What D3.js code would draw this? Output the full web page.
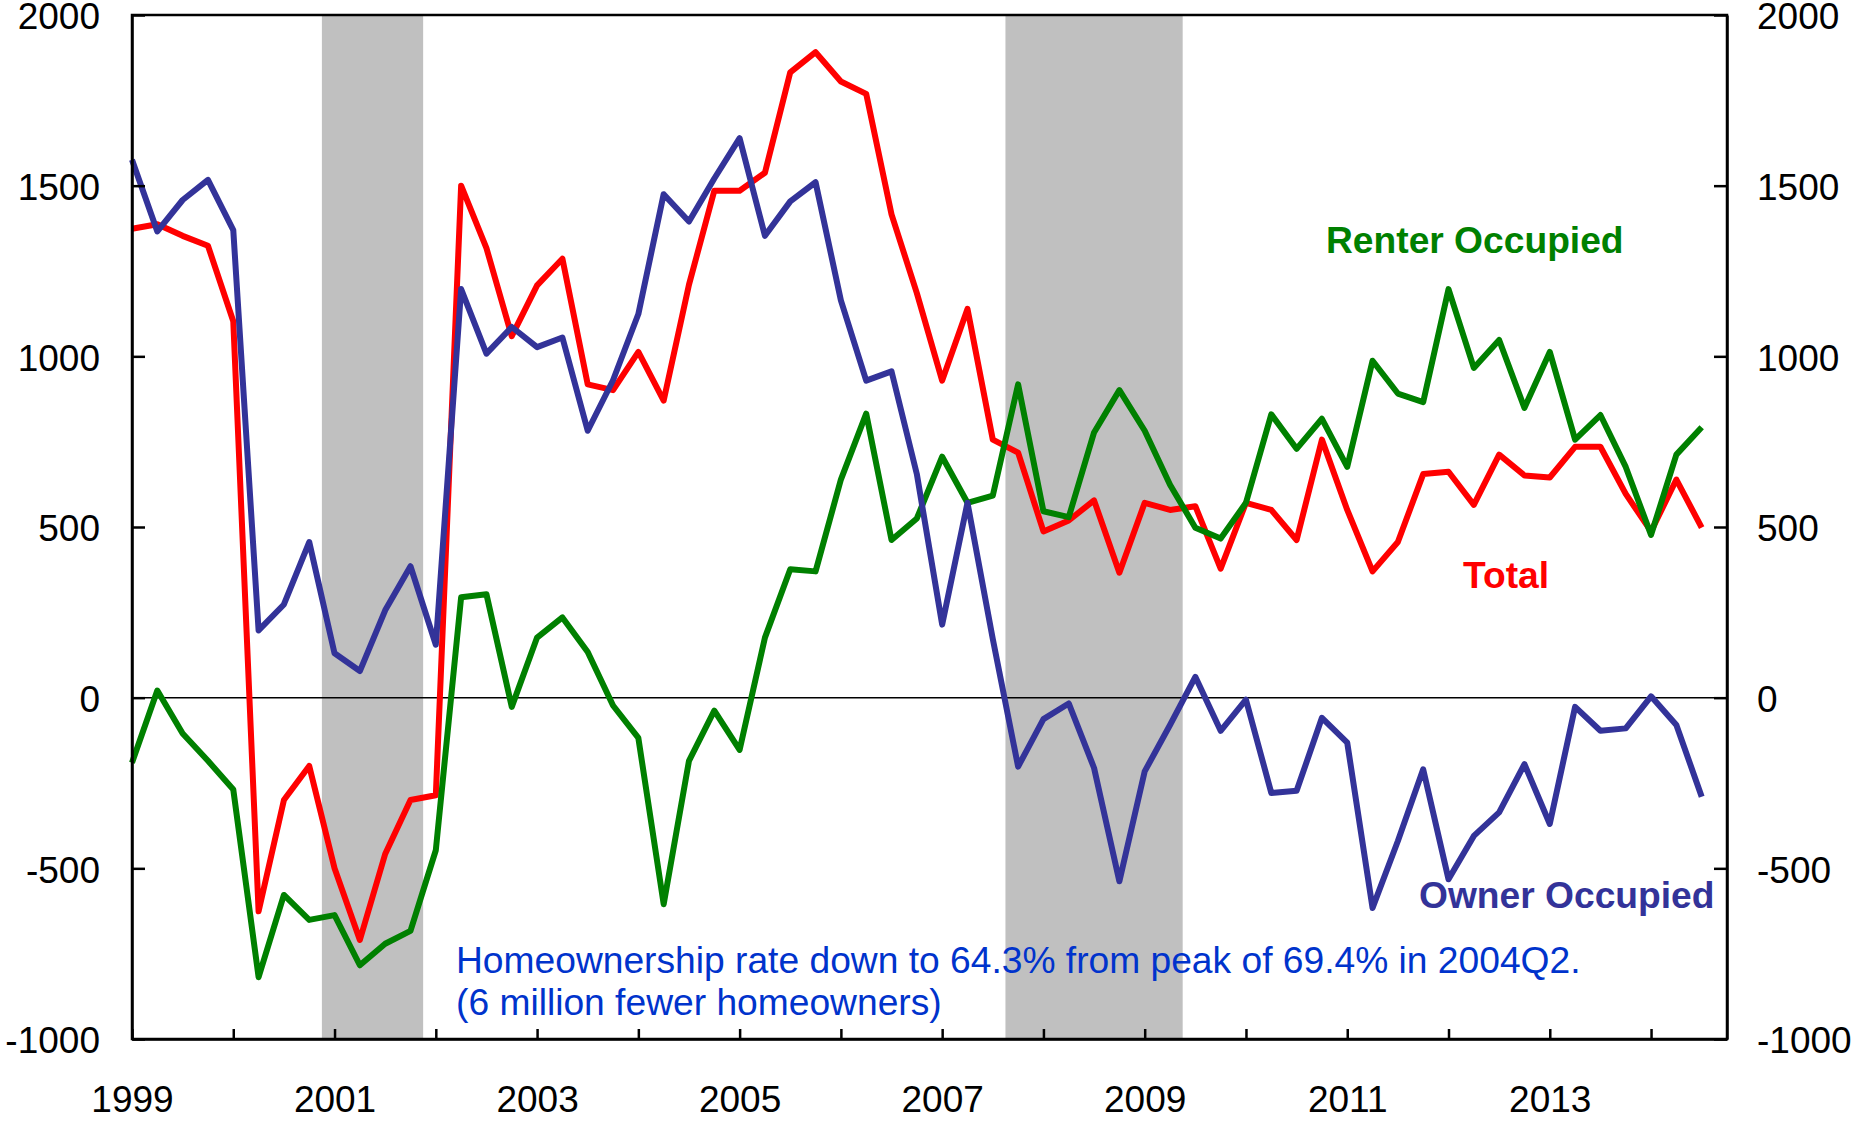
<!DOCTYPE html>
<html>
<head>
<meta charset="utf-8">
<script src="https://cdn.jsdelivr.net/npm/d3@7"></script>
<style>
  body { margin: 0; background: #ffffff; }
  svg { display: block; }
</style>
</head>
<body>
<div id="chart"></div>
<script>
// quarterly change in households, 1999Q1 .. 2014Q3 (thousands)
var startYear = 1999;
var yearLabels = ["1999", "2001", "2003", "2005", "2007", "2009", "2011", "2013"];

var total = [
  1374, 1387, 1353, 1324, 1103, -626, -300, -200,
  -500, -710, -458, -300, -286, 1500, 1317, 1059,
  1208, 1286, 918, 901, 1013, 870, 1210, 1485,
  1485, 1538, 1832, 1891, 1805, 1769, 1416, 1185,
  929, 1139, 756, 718, 487, 519, 578, 366,
  571, 550, 561, 378, 571, 550, 462, 756,
  550, 370, 456, 655, 662, 565, 712, 651,
  645, 735, 735, 597, 487, 639, 498
];

var owner = [
  1576, 1366, 1458, 1517, 1370, 197, 273, 456,
  130, 78, 256, 385, 155, 1197, 1008, 1086,
  1027, 1055, 782, 930, 1124, 1475, 1395, 1521,
  1639, 1353, 1454, 1510, 1164, 929, 956, 655,
  214, 571, 172, -202, -63, -17, -206, -538,
  -216, -80, 61, -97, -6, -279, -273, -59,
  -132, -616, -420, -210, -532, -405, -336, -195,
  -370, -27, -97, -90, 4, -80, -290
];

var renter = [
  -191, 21, -105, -185, -269, -819, -578, -651,
  -637, -784, -721, -683, -447, 294, 303, -27,
  176, 235, 134, -23, -118, -605, -185, -38,
  -153, 176, 376, 370, 639, 832, 462, 525,
  706, 571, 592, 918, 546, 529, 777, 901,
  782, 624, 498, 466, 571, 830, 729, 817,
  676, 987, 891, 866, 1197, 966, 1048, 849,
  1013, 756, 828, 676, 477, 712, 792
];

// recessions, first and last quarter
var recessions = [["2001Q1", "2001Q4"], ["2007Q4", "2009Q2"]];

var yTicks = [-1000, -500, 0, 500, 1000, 1500, 2000];

// size of the page
var width = 1865;
var height = 1124;

// plot box (note: "top" is taken by window.top, so use plot* names)
var plotLeft = 132;
var plotRight = 1727;
var plotTop = 15;
var plotBottom = 1039;

var fontFam = "'Liberation Sans', Arial, Helvetica, sans-serif";

// quarter string -> index from 1999Q1
function qIndex(q) {
    return (parseInt(q.slice(0, 4)) - startYear) * 4 + parseInt(q.slice(5)) - 1;
}

var svg = d3
    .select("#chart")
    .append("svg")
    .attr("width", width)
    .attr("height", height);

var xScale = d3.scaleLinear().domain([0, 63]).range([plotLeft, plotRight]);
var yScale = d3.scaleLinear().domain([-1000, 2000]).range([plotBottom, plotTop]);

// grey recession bars
svg.selectAll(".recession")
    .data(recessions)
    .enter()
    .append("rect")
    .attr("class", "recession")
    .attr("x", function(d) { return xScale(qIndex(d[0]) - 0.5); })
    .attr("width", function(d) { return xScale(qIndex(d[1]) + 0.5) - xScale(qIndex(d[0]) - 0.5); })
    .attr("y", plotTop)
    .attr("height", plotBottom - plotTop)
    .attr("fill", "#c0c0c0");

// zero line
svg.append("line")
    .attr("x1", plotLeft)
    .attr("x2", plotRight)
    .attr("y1", yScale(0))
    .attr("y2", yScale(0))
    .attr("stroke", "#000")
    .attr("stroke-width", 1.5);

// the three lines
var line = d3.line()
    .x(function(d, i) { return xScale(i); })
    .y(function(d) { return yScale(d); });

var series = [
    { name: "total", values: total, color: "#ff0000" },
    { name: "renter", values: renter, color: "#008000" },
    { name: "owner", values: owner, color: "#333399" }
];

series.forEach(function(s) {
    svg.append("path")
        .datum(s.values)
        .attr("class", "line " + s.name)
        .attr("d", line)
        .attr("fill", "none")
        .attr("stroke", s.color)
        .attr("stroke-width", 6)
        .attr("stroke-linejoin", "round");
});

// axes, ticks point inward; plain hyphen for negatives
function plainNum(d) { return String(d); }

var yAxisLeft = d3.axisLeft(yScale)
    .tickValues(yTicks)
    .tickSizeInner(-13)
    .tickSizeOuter(0)
    .tickPadding(32)
    .tickFormat(plainNum);

var yAxisRight = d3.axisRight(yScale)
    .tickValues(yTicks)
    .tickSizeInner(-13)
    .tickSizeOuter(0)
    .tickPadding(30)
    .tickFormat(plainNum);

var xAxis = d3.axisBottom(xScale)
    .tickValues(d3.range(0, 61, 4))
    .tickSizeInner(-10)
    .tickSizeOuter(0)
    .tickPadding(47)
    .tickFormat(function(d) {
        var yr = String(startYear + d / 4);
        return yearLabels.indexOf(yr) >= 0 ? yr : "";
    });

svg.append("g")
    .attr("class", "yAxis")
    .attr("transform", "translate(" + plotLeft + ",0)")
    .call(yAxisLeft);

svg.append("g")
    .attr("class", "yAxis2")
    .attr("transform", "translate(" + plotRight + ",0)")
    .call(yAxisRight);

svg.append("g")
    .attr("class", "xAxis")
    .attr("transform", "translate(0," + plotBottom + ")")
    .call(xAxis);

svg.selectAll(".yAxis, .yAxis2, .xAxis")
    .attr("font-family", fontFam)
    .attr("font-size", 37);
svg.selectAll(".yAxis text, .yAxis2 text, .xAxis text").attr("fill", "#000");
svg.selectAll(".yAxis text, .yAxis2 text").attr("dy", "0.37em");
svg.selectAll(".domain, .tick line").attr("stroke", "#000").attr("stroke-width", 2.5);

// box around the plot
svg.append("rect")
    .attr("x", plotLeft)
    .attr("y", plotTop)
    .attr("width", plotRight - plotLeft)
    .attr("height", plotBottom - plotTop)
    .attr("fill", "none")
    .attr("stroke", "#000")
    .attr("stroke-width", 2.5);

// series labels
var labels = [
    { text: "Renter Occupied", x: 1326, y: 253, color: "#008000" },
    { text: "Total", x: 1463, y: 588, color: "#ff0000" },
    { text: "Owner Occupied", x: 1419, y: 908, color: "#333399" }
];

svg.selectAll(".seriesLabel")
    .data(labels)
    .enter()
    .append("text")
    .attr("class", "seriesLabel")
    .attr("x", function(d) { return d.x; })
    .attr("y", function(d) { return d.y; })
    .attr("fill", function(d) { return d.color; })
    .attr("font-family", fontFam)
    .attr("font-size", 37.2)
    .attr("font-weight", "bold")
    .text(function(d) { return d.text; });

// note at the bottom
var note = svg.append("text")
    .attr("font-family", fontFam)
    .attr("font-size", 37.2)
    .attr("fill", "#0033cc");

note.append("tspan")
    .attr("x", 456)
    .attr("y", 973)
    .text("Homeownership rate down to 64.3% from peak of 69.4% in 2004Q2.");

note.append("tspan")
    .attr("x", 456)
    .attr("y", 1015)
    .text("(6 million fewer homeowners)");
</script>
</body>
</html>
